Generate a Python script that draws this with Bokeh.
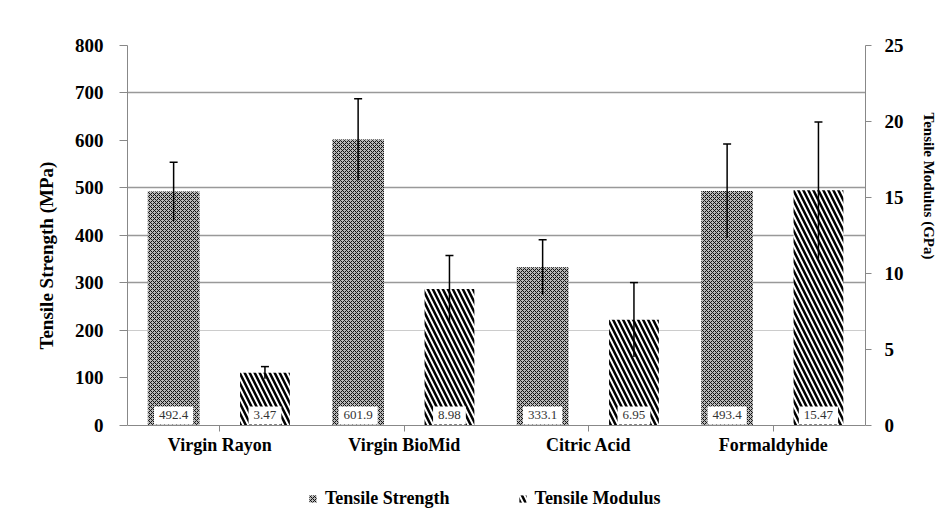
from bokeh.plotting import figure
from bokeh.models import (FactorRange, Range1d, LinearAxis, FixedTicker, Grid,
                          ColumnDataSource, Legend, LegendItem, Title)
from bokeh.core.properties import value
from bokeh.transform import dodge
from bokeh.embed import file_html
from bokeh.resources import INLINE

categories = ["Virgin Rayon", "Virgin BioMid", "Citric Acid", "Formaldyhide"]
strength = [492.4, 601.9, 333.1, 493.4]
strength_err = [62, 86, 58, 99]
modulus = [3.47, 8.98, 6.95, 15.47]
modulus_err = [0.4, 2.2, 2.45, 4.5]
strength_ticks = [0, 100, 200, 300, 400, 500, 600, 700, 800]
modulus_ticks = [0, 5, 10, 15, 20, 25]
grid_main = [300, 400, 500, 700, 800]
grid_light = [200]

FONT = "Liberation Serif"

# frame extends below zero so that the category labels and legend sit inside it
S_MAX, M_MAX = 800, 25
S_MIN = -196
M_MIN = S_MIN * M_MAX / S_MAX

src = ColumnDataSource(dict(
    cat=categories,
    s=strength,
    s_lo=[v - e for v, e in zip(strength, strength_err)],
    s_hi=[v + e for v, e in zip(strength, strength_err)],
    m=modulus,
    m_lo=[v - e for v, e in zip(modulus, modulus_err)],
    m_hi=[v + e for v, e in zip(modulus, modulus_err)],
    s_lab=[f"{v}" for v in strength],
    m_lab=[f"{v}" for v in modulus],
    zero=[0] * len(categories),
))

p = figure(x_range=FactorRange(factors=categories, range_padding=0),
           y_range=Range1d(S_MIN, S_MAX), frame_width=738, frame_height=473,
           output_backend="svg", toolbar_location=None,
           min_border_left=127, min_border_right=84,
           min_border_top=45, min_border_bottom=8)
p.extra_y_ranges = {"mod": Range1d(M_MIN, M_MAX)}
p.outline_line_color = None
p.background_fill_color = "white"
p.border_fill_color = "white"

p.xgrid.grid_line_color = None
p.ygrid.ticker = FixedTicker(ticks=grid_main)
p.ygrid.grid_line_color = "#999999"
p.ygrid.grid_line_width = 1.5
p.add_layout(Grid(dimension=1, ticker=FixedTicker(ticks=grid_light),
                  grid_line_color="#cccccc", grid_line_width=1))

xs = dodge("cat", -0.25, range=p.x_range)
xm = dodge("cat", 0.245, range=p.x_range)

r1 = p.vbar(x=xs, top="s", bottom=0, width=0.28, source=src, fill_color="#b8b8b8",
            line_color=None, hatch_pattern="diagonal_cross", hatch_color="#111111",
            hatch_scale=4, hatch_weight=1)
r2 = p.vbar(x=xm, top="m", bottom=0, width=0.27, source=src, y_range_name="mod",
            fill_color="white", line_color=None, hatch_pattern="left_diagonal_line",
            hatch_color="black", hatch_scale=10, hatch_weight=2.5)

p.segment(x0=xs, y0="s_lo", x1=xs, y1="s_hi", source=src, line_color="black", line_width=1.5)
p.scatter(x=xs, y="s_hi", source=src, marker="dash", size=8, line_color="black", line_width=1.5)
p.segment(x0=xm, y0="m_lo", x1=xm, y1="m_hi", source=src, y_range_name="mod",
          line_color="black", line_width=1.5)
p.scatter(x=xm, y="m_hi", source=src, y_range_name="mod", marker="dash", size=8,
          line_color="black", line_width=1.5)

for xx, col in ((xs, "s_lab"), (xm, "m_lab")):
    p.text(x=xx, y="zero", text=col, source=src, y_offset=-10,
           text_align="center", text_baseline="middle",
           text_font=value(FONT), text_font_size="13px", text_color="#333333",
           background_fill_color="white", padding=5)

# left axis
ya = p.yaxis[0]
ya.ticker = FixedTicker(ticks=strength_ticks)
ya.bounds = (0, S_MAX)
ya.major_label_text_font = FONT
ya.major_label_text_font_style = "bold"
ya.major_label_text_font_size = "19px"
ya.major_label_text_color = "black"
ya.major_label_standoff = 16
ya.major_tick_in = 0
ya.major_tick_out = 8
ya.minor_tick_out = 0
ya.minor_tick_in = 0
ya.axis_line_color = "#888888"
ya.major_tick_line_color = "#888888"

p.add_layout(Title(text="Tensile Strength (MPa)", align="left", offset=169, standoff=30,
                   text_font=FONT, text_font_style="bold", text_font_size="19px",
                   text_color="black"), "left")

# right axis
ra = LinearAxis(y_range_name="mod", ticker=FixedTicker(ticks=modulus_ticks),
                bounds=(0, M_MAX))
ra.major_label_text_font = FONT
ra.major_label_text_font_style = "bold"
ra.major_label_text_font_size = "19px"
ra.major_label_text_color = "black"
ra.major_label_standoff = 13
ra.major_tick_in = 0
ra.major_tick_out = 6
ra.minor_tick_out = 0
ra.minor_tick_in = 0
ra.axis_line_color = "#888888"
ra.major_tick_line_color = "#888888"
p.add_layout(ra, "right")

p.add_layout(Title(text="Tensile Modulus (GPa)", align="left", offset=67, standoff=28,
                   text_font=FONT, text_font_style="bold", text_font_size="15px",
                   text_color="black"), "right")

# bottom axis, drawn at zero inside the frame
xa = p.xaxis[0]
xa.fixed_location = 0
xa.major_label_text_font = FONT
xa.major_label_text_font_style = "bold"
xa.major_label_text_font_size = "18px"
xa.major_label_text_color = "black"
xa.major_label_standoff = 4
xa.major_tick_in = 0
xa.major_tick_out = 6
xa.axis_line_color = "#888888"
xa.major_tick_line_color = "#888888"

legend = Legend(items=[LegendItem(label="Tensile Strength", renderers=[r1]),
                       LegendItem(label="Tensile Modulus", renderers=[r2])],
                orientation="horizontal", location=(181, 9),
                glyph_width=9, glyph_height=9, spacing=68, label_standoff=8,
                label_text_font=FONT, label_text_font_style="bold",
                label_text_font_size="18px", label_text_color="black",
                border_line_color=None, background_fill_alpha=0, margin=0, padding=5)
p.add_layout(legend, "center")

open("out.html", "w").write(file_html(p, INLINE))
